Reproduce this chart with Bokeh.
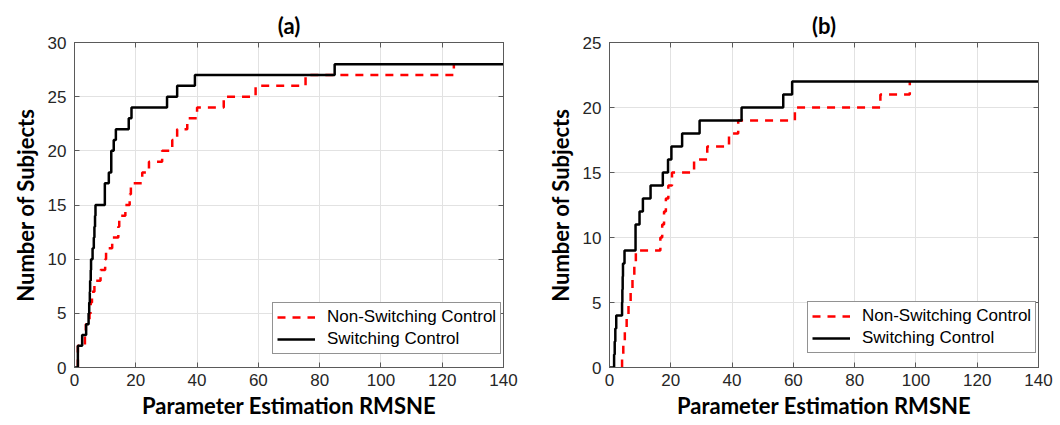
from bokeh.plotting import figure
from bokeh.layouts import row
from bokeh.models import FixedTicker, LinearAxis, Legend, LegendItem, Range1d
from bokeh.embed import file_html
from bokeh.resources import INLINE

# ---------------- data ----------------
x_ticks = [0, 20, 40, 60, 80, 100, 120, 140]
y_ticks_a = [0, 5, 10, 15, 20, 25, 30]
y_ticks_b = [0, 5, 10, 15, 20, 25]
x_max = 140
y_max_a = 30
y_max_b = 25

# RMSNE of each subject (sorted) -> cumulative number of subjects
nonswitch_a = [1.1, 1.1, 3.4, 3.7, 4.9, 5.3, 5.7, 6.5, 8.5, 10.0, 10.3, 12.3, 14.3, 14.6,
               16.6, 18.0, 18.4, 22.1, 24.3, 28.6, 31.9, 33.5, 36.8, 40.0, 48.7, 59.1,
               75.4, 123.8]
switch_a = [1.1, 1.1, 2.5, 3.8, 4.6, 4.8, 5.0, 5.1, 5.3, 5.4, 5.9, 6.3, 6.5, 6.7, 6.85,
            9.9, 9.9, 11.2, 12.0, 12.0, 12.8, 13.5, 17.7, 18.6, 30.2, 33.5, 39.3, 84.9]
nonswitch_b = [4.1, 4.5, 5.0, 5.6, 6.2, 6.9, 7.5, 8.1, 8.6, 16.6, 17.2, 17.8, 18.4, 19.2,
               20.4, 27.6, 31.9, 39.0, 42.0, 60.5, 88.4, 98.0]
switch_b = [1.5, 1.7, 1.9, 2.2, 4.1, 4.2, 4.3, 4.4, 4.9, 8.5, 8.5, 9.8, 10.9, 13.4, 17.4,
            19.1, 20.2, 23.7, 29.4, 43.1, 56.7, 59.6]

series_names = ["Non-Switching Control", "Switching Control"]
titles = ["(a)", "(b)"]
x_label = "Parameter Estimation RMSNE"
y_label = "Number of Subjects"

LABEL_FONT = "Lato"
TICK_FONT = "Liberation Sans"
AX_COLOR = "#5a5a5a"
GRID_COLOR = "#e2e2e2"


def stair(vals, start, end=None):
    xs = [start] + list(vals)
    ys = [0] + list(range(1, len(vals) + 1))
    if end is not None:
        xs.append(end)
        ys.append(len(vals))
    return xs, ys


def make_panel(title, red_vals, black_vals, y_max, y_ticks, left, right, legend_loc):
    p = figure(width=530, height=425, output_backend="svg", toolbar_location=None,
               x_range=Range1d(0, x_max), y_range=Range1d(0, y_max),
               min_border_left=left, min_border_right=right,
               min_border_top=42, min_border_bottom=58)
    p.title.text = title
    p.title.align = "center"
    p.title.vertical_align = "middle"
    p.title.text_font = LABEL_FONT
    p.title.text_font_style = "bold"
    p.title.text_font_size = "22px"
    p.title.text_color = "black"
    p.title.standoff = 6

    p.outline_line_color = AX_COLOR
    p.background_fill_color = "white"
    p.border_fill_color = "white"

    for ax, ticks in ((p.xaxis[0], x_ticks), (p.yaxis[0], y_ticks)):
        ax.ticker = FixedTicker(ticks=ticks)
        ax.major_tick_in = 5
        ax.major_tick_out = 0
        ax.minor_tick_line_color = None
        ax.axis_line_color = AX_COLOR
        ax.major_tick_line_color = AX_COLOR
        ax.major_label_text_font = TICK_FONT
        ax.major_label_text_font_size = "17px"
        ax.major_label_text_color = "#262626"
        ax.axis_label_text_font = LABEL_FONT
        ax.axis_label_text_font_style = "bold"
        ax.axis_label_text_font_size = "22px"
        ax.axis_label_text_color = "black"
    p.xaxis.axis_label = x_label
    p.yaxis.axis_label = y_label
    p.xaxis.major_label_standoff = 6
    p.xaxis.axis_label_standoff = 3
    p.yaxis.major_label_standoff = 8
    p.yaxis.axis_label_standoff = 6

    for loc, ticks in (("right", y_ticks), ("above", x_ticks)):
        ax = LinearAxis(ticker=FixedTicker(ticks=ticks),
                        major_label_overrides={t: "" for t in ticks},
                        major_label_text_font_size="1px",
                        major_label_standoff=0,
                        major_tick_in=5, major_tick_out=0,
                        minor_tick_line_color=None,
                        axis_line_color=AX_COLOR, major_tick_line_color=AX_COLOR)
        p.add_layout(ax, loc)

    p.grid.grid_line_color = GRID_COLOR
    p.grid.grid_line_width = 1
    p.xgrid.ticker = FixedTicker(ticks=x_ticks)
    p.ygrid.ticker = FixedTicker(ticks=y_ticks)

    rx, ry = stair(red_vals, red_vals[0])
    bx, by = stair(black_vals, 0, x_max)
    r_red = p.step(rx, ry, mode="after", line_color="#ff0000", line_width=2.5,
                   line_dash="8 7")
    r_blk = p.step(bx, by, mode="after", line_color="black", line_width=2.5)

    legend = Legend(items=[LegendItem(label=series_names[0], renderers=[r_red]),
                           LegendItem(label=series_names[1], renderers=[r_blk])],
                    location=legend_loc)
    legend.label_text_font = TICK_FONT
    legend.label_text_font_size = "17px"
    legend.label_text_color = "black"
    legend.border_line_color = "#262626"
    legend.border_line_width = 1
    legend.background_fill_alpha = 1
    legend.padding = 4
    legend.spacing = 2
    legend.margin = 0
    legend.glyph_width = 38
    legend.glyph_height = 20
    legend.label_height = 20
    legend.label_standoff = 12
    p.add_layout(legend, "center")
    return p


pa = make_panel(titles[0], nonswitch_a, switch_a, y_max_a, y_ticks_a, 74, 27, (198, 13))
pb = make_panel(titles[1], nonswitch_b, switch_b, y_max_b, y_ticks_b, 79, 22, (198, 14))

layout = row(pa, pb, spacing=0)
open("out.html", "w").write(file_html(layout, INLINE))
